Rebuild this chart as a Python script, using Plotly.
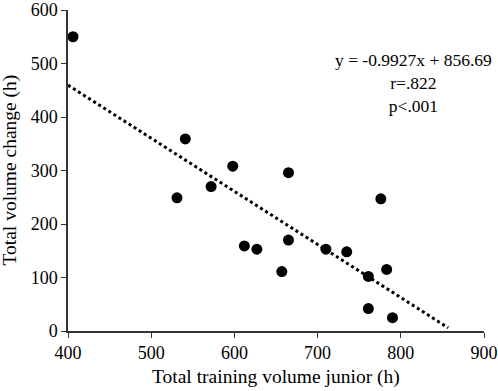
import plotly.graph_objects as go

training_junior = [406, 541, 531, 572, 598, 612, 627, 665, 776, 657, 665, 710, 735, 761, 783, 761, 790]
volume_change = [550, 359, 249, 270, 308, 159, 153, 296, 247, 111, 170, 153, 148, 102, 115, 42, 25]

slope = -0.9927
intercept = 856.69
trend_x = [400, 857]
trend_y = [slope * x + intercept for x in trend_x]

x_ticks = [400, 500, 600, 700, 800, 900]
y_ticks = [0, 100, 200, 300, 400, 500, 600]

font_family = "Liberation Serif, Times New Roman, serif"

fig = go.Figure()
fig.add_trace(go.Scatter(x=trend_x, y=trend_y, mode="lines",
                         line=dict(color="black", width=3, dash="dot"),
                         showlegend=False, hoverinfo="skip"))
fig.add_trace(go.Scatter(x=training_junior, y=volume_change, mode="markers",
                         marker=dict(color="black", size=11),
                         showlegend=False))

fig.add_annotation(x=0.83, y=0.772, xref="paper", yref="paper",
                   xanchor="center", yanchor="middle",
                   text="y = -0.9927x + 856.69<br>r=.822<br>p<.001",
                   showarrow=False, align="center",
                   font=dict(family=font_family, size=17.5, color="black"))

fig.add_annotation(x=0.5, y=0, xref="paper", yref="paper",
                   xanchor="center", yanchor="middle", yshift=-46,
                   text="Total training volume junior (h)", showarrow=False,
                   font=dict(family=font_family, size=19.5, color="black"))
fig.add_annotation(x=0, y=0.5, xref="paper", yref="paper",
                   xanchor="center", yanchor="middle", xshift=-59, textangle=-90,
                   text="Total volume change (h)", showarrow=False,
                   font=dict(family=font_family, size=19.5, color="black"))

fig.update_layout(
    width=498, height=391,
    margin=dict(l=68, r=14, t=10, b=60, autoexpand=False),
    paper_bgcolor="white", plot_bgcolor="white",
    font=dict(family=font_family, size=18, color="black"),
    xaxis=dict(range=[400, 900], tickvals=x_ticks, showgrid=False, zeroline=False,
               showline=True, linecolor="#333333", linewidth=1.5, automargin=False,
               ticks="outside", ticklen=5, tickcolor="#333333",
               tickfont=dict(size=18)),
    yaxis=dict(range=[0, 600], tickvals=y_ticks, showgrid=False, zeroline=False,
               showline=True, linecolor="#333333", linewidth=1.5, automargin=False,
               ticks="outside", ticklen=5, tickcolor="#333333",
               tickfont=dict(size=18)),
)

fig.write_html("out.html", config={"displayModeBar": False},
               post_script="document.body.style.margin='0';document.body.style.overflow='hidden';")
